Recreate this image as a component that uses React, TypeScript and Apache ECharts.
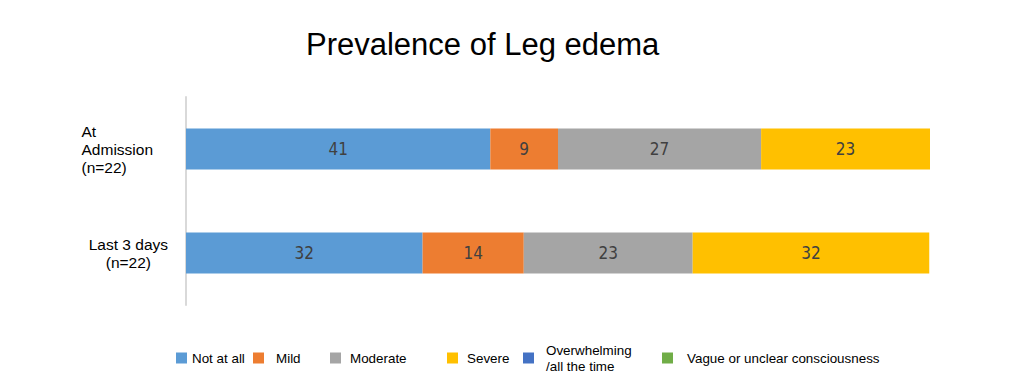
import React, { useEffect, useRef } from "react";
import * as echarts from "echarts";

const title = "Prevalence of Leg edema";
const categories = ["At\nAdmission\n(n=22)", "Last 3 days\n(n=22)"];
const seriesNames = [
  "Not at all",
  "Mild",
  "Moderate",
  "Severe",
  "Overwhelming\n/all the time",
  "Vague or unclear consciousness",
];
const notAtAll = [40.9, 31.8];
const mild = [9.1, 13.6];
const moderate = [27.3, 22.7];
const severe = [22.7, 31.8];
const overwhelming = [0, 0];
const vague = [0, 0];
const colors = ["#5B9BD5", "#ED7D31", "#A5A5A5", "#FFC000", "#4472C4", "#70AD47"];

const seriesValues = [notAtAll, mild, moderate, severe, overwhelming, vague];

// legend layout (left position of each icon, extra gap between icon and text)
const legendLeft = [176, 253, 330, 447, 523, 662];
const legendTextGap = [0, 7, 4, 4, 7, 9];

export default function App() {
  const ref = useRef<HTMLDivElement>(null);
  useEffect(() => {
    if (!ref.current) return;
    document.body.style.margin = "0";
    const chart = echarts.init(ref.current, undefined, { renderer: "svg" });
    const font = "'Liberation Sans', Arial, sans-serif";
    const option: any = {
      animation: false,
      color: colors,
      title: {
        text: title,
        left: 306,
        top: 29,
        padding: 0,
        textStyle: {
          fontFamily: font,
          fontSize: 31,
          fontWeight: "normal",
          color: "#000",
        },
      },
      legend: seriesNames.map((n, i) => ({
        data: [n],
        left: legendLeft[i],
        top: i === 4 ? 342 : 350,
        padding: 0,
        itemWidth: 11,
        itemHeight: 11,
        icon: "rect",
        selectedMode: false,
        textStyle: {
          fontFamily: font,
          fontSize: 13.4,
          color: "#000",
          lineHeight: 16,
          padding: [0, 0, 0, legendTextGap[i]],
        },
      })),
      grid: { left: 186, right: 94, top: 97, bottom: 77, containLabel: false },
      xAxis: {
        type: "value",
        min: 0,
        max: 100,
        show: false,
      },
      yAxis: {
        type: "category",
        inverse: true,
        data: categories.map((c, i) => ({
          value: c,
          textStyle: i === 0 ? { padding: [0, 15, 0, 0] } : {},
        })),
        axisTick: { show: false },
        axisLine: { show: true, lineStyle: { color: "#D9D9D9", width: 2 } },
        axisLabel: {
          margin: 18,
          fontFamily: font,
          fontSize: 15.5,
          color: "#000",
          lineHeight: 18,
          formatter: (v: string, idx: number) => {
            const key = idx === 0 ? "a" : "b";
            return v
              .split("\n")
              .map((l) => `{${key}|${l}}`)
              .join("\n");
          },
          rich: {
            a: { align: "left", fontFamily: font, fontSize: 15.5, lineHeight: 18, color: "#000" },
            b: { align: "center", fontFamily: font, fontSize: 15.5, lineHeight: 18, color: "#000" },
          },
        },
      },
      series: seriesNames.map((n, i) => ({
        name: n,
        type: "bar",
        stack: "total",
        barWidth: 41,
        data: seriesValues[i],
        itemStyle: { color: colors[i] },
        label: {
          show: true,
          position: "inside",
          fontFamily: "'Liberation Sans Narrow', 'DejaVu Sans Condensed', sans-serif",
          fontSize: 17,
          color: "#404040",
          formatter: (p: any) => (p.value ? String(Math.round(p.value)) : ""),
        },
      })),
    };
    chart.setOption(option);
    return () => chart.dispose();
  }, []);
  return <div ref={ref} style={{ width: 1024, height: 382 }} />;
}
